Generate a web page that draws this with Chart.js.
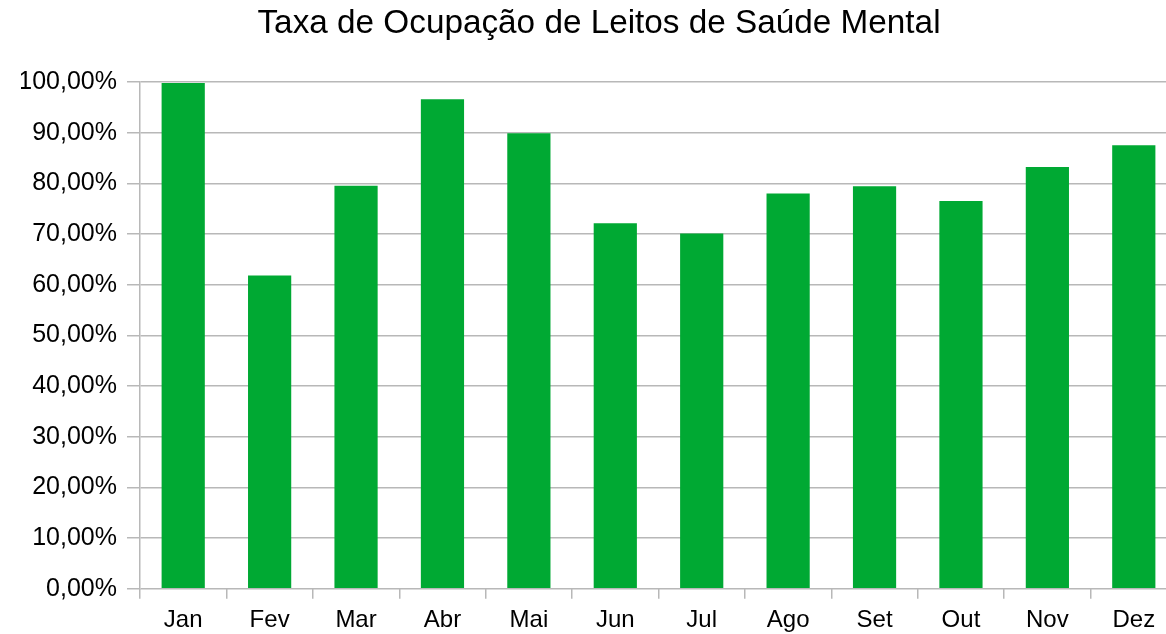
<!DOCTYPE html>
<html>
<head>
<meta charset="utf-8">
<script src="https://cdn.jsdelivr.net/npm/chart.js@4/dist/chart.umd.min.js"></script>
<style>
  html, body { margin: 0; padding: 0; background: #fff; overflow: hidden; }
  #wrap { width: 1198px; height: 642px; position: relative; }
</style>
</head>
<body>
<div id="wrap"><canvas id="c"></canvas></div>
<script>
const categories = ["Jan", "Fev", "Mar", "Abr", "Mai", "Jun", "Jul", "Ago", "Set", "Out", "Nov", "Dez"];
const occupancy = [99.8, 61.8, 79.5, 96.6, 89.9, 72.1, 70.1, 78.0, 79.4, 76.5, 83.2, 87.5];
const chartTitle = "Taxa de Ocupação de Leitos de Saúde Mental";
const yMin = 0, yMax = 100, yStep = 10;

const fontFamily = "'Liberation Sans', Arial, sans-serif";
const gridColor = "#b8b8b8";

new Chart(document.getElementById("c"), {
  type: "bar",
  data: {
    labels: categories,
    datasets: [{
      label: chartTitle,
      data: occupancy,
      backgroundColor: "#00a933",
      borderWidth: 0,
      barPercentage: 0.5,
      categoryPercentage: 1.0
    }]
  },
  options: {
    responsive: true,
    maintainAspectRatio: false,
    animation: false,
    layout: { padding: { left: 21, right: 21, top: 0, bottom: 0 } },
    plugins: {
      legend: { display: false },
      tooltip: { enabled: false },
      title: {
        display: true,
        text: chartTitle,
        color: "#000",
        font: { family: fontFamily, size: 33.3, weight: "normal" },
        padding: { top: 4, bottom: 38 }
      }
    },
    scales: {
      x: {
        grid: {
          display: true,
          drawOnChartArea: false,
          drawTicks: true,
          tickLength: 10,
          color: gridColor,
          lineWidth: 1.5,
          offset: true
        },
        border: { display: false },
        ticks: {
          color: "#000",
          font: { family: fontFamily, size: 24, lineHeight: 0.8 },
          padding: 12,
          maxRotation: 0,
          autoSkip: false
        }
      },
      y: {
        min: yMin,
        max: yMax,
        afterFit: s => { s.width = 119; },
        grid: {
          color: gridColor,
          lineWidth: 1.5,
          drawTicks: true,
          tickLength: 13
        },
        border: { display: true, color: gridColor, width: 1.5 },
        ticks: {
          stepSize: yStep,
          color: "#000",
          font: { family: fontFamily, size: 25 },
          padding: 10,
          callback: v => v.toFixed(2).replace(".", ",") + "%"
        }
      }
    }
  }
});
</script>
</body>
</html>
